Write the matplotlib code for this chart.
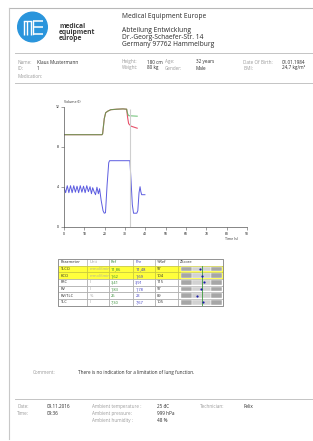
import matplotlib
matplotlib.use("Agg")
import numpy as np
from matplotlib import pyplot as plt
from matplotlib.patches import Circle, Rectangle

plt.rcParams['font.family'] = ['Open Sans', 'DejaVu Sans']

# volume trace (l) over time (s)
blue_t = [0, 0.8, 1.6, 2.4, 3.2, 4.0, 4.8, 5.6, 6.4, 7.2, 8.0, 8.8, 9.6, 10.4, 11.2,
          12.0, 12.8, 13.5, 14.1, 14.8, 15.5, 16.2, 16.9, 17.5, 18.3, 19.2, 19.8, 20.4,
          21.2, 22.0, 22.4, 32.4, 33.0, 33.6, 34.2, 35.8, 36.3, 36.9, 37.4, 37.8, 38.2, 39.8]
blue_v = [3.9, 3.4, 4.1, 3.4, 4.1, 3.4, 4.1, 3.45, 4.05, 3.4, 4.1, 3.45, 4.05, 3.4, 4.1,
          3.5, 4.0, 3.3, 3.9, 3.5, 3.2, 3.95, 3.3, 3.8, 2.6, 1.6, 1.35, 1.4,
          4.2, 6.4, 6.6, 6.6, 4.5, 2.2, 1.35, 1.35, 1.6, 3.4, 4.0, 3.5, 3.2, 3.2]
green_t = [0, 18.7, 19.0, 19.8, 20.5, 21.5, 23, 26, 29, 30.8, 31.3, 31.8, 36]
green_v = [9.2, 9.2, 9.3, 10.8, 11.4, 11.55, 11.7, 11.75, 11.78, 11.75, 11.3, 11.1, 11.05]
red_t = [0, 18.7, 19.0, 19.8, 20.5, 21.5, 23, 26, 29, 30.8, 31.3, 31.8, 33, 34.5, 36]
red_v = [9.2, 9.2, 9.3, 10.8, 11.4, 11.55, 11.7, 11.75, 11.78, 11.75, 10.9, 10.3, 10.05, 9.95, 9.85]
event_t = 32.7
event_top = 11.8

# results table
params = ["TLCO", "KCO", "FRC", "RV", "RV/TLC", "TLC"]
units = ["mmol/(min", "mmol/(min", "l", "l", "%", "l"]
ref = ["11,86", "1,62", "3,41", "1,83", "26", "7,30"]
pre = ["11,48", "1,69", "3,91", "1,78", "23", "7,67"]
pct_ref = ["97", "104", "115", "97", "89", "105"]
zscore = [-0.3, 0.1, 0.45, -0.2, -0.8, 0.3]
highlight = [True, True, False, False, False, False]

W, H = 313, 441
fig = plt.figure(figsize=(W / 100, H / 100), dpi=100)
page = fig.add_axes([0, 0, 1, 1])
page.set_xlim(0, W)
page.set_ylim(H, 0)
page.axis('off')

grey_lbl = '#9a9a9a'
dark = '#2a2a2a'

# frame and separators
page.plot([9, W], [8, 8], color='#b8b8b8', lw=0.8)
page.plot([9, 9], [8, 439], color='#c8c8c8', lw=0.8)
for y in [53, 83, 399]:
    page.plot([15, W], [y, y], color='#c4c4c4', lw=0.7)

# logo
page.add_patch(Circle((32.5, 27), 14.8, color='#2a95dc'))
for x in [23.5, 27, 30.5]:
    page.plot([x, x], [21, 35], color='white', lw=1.0, solid_capstyle='butt')
page.plot([23.5, 30.5], [20.5, 20.5], color='white', lw=1.0)
for y in [20.5, 27, 33.5]:
    page.plot([33, 43], [y, y], color='white', lw=1.1, solid_capstyle='butt')
page.plot([33, 33], [20.5, 33.5], color='white', lw=1.0)
for y, s in zip([26, 32.5, 39], ["medical", "equipment", "europe"]):
    page.text(59, y, s, fontsize=4.9, fontweight='bold', color='#3a3a3a', va='center')

for y, s in zip([17, 30, 37.5, 45], ["Medical Equipment Europe", "Abteilung Entwicklung",
                                     "Dr.-Georg-Schaefer-Str. 14", "Germany 97762 Hammelburg"]):
    page.text(122, y, s, fontsize=4.8, color=dark, va='center')

# patient info
info = [(17, 62, "Name:", grey_lbl), (37, 62, "Klaus Mustermann", dark),
        (17, 68, "ID:", grey_lbl), (37, 68, "1", dark),
        (17, 76, "Medication:", grey_lbl),
        (122, 62, "Height:", grey_lbl), (147, 62, "180 cm", dark),
        (122, 68, "Weight:", grey_lbl), (147, 68, "80 kg", dark),
        (165, 62, "Age:", grey_lbl), (196, 62, "32 years", dark),
        (165, 68, "Gender:", grey_lbl), (196, 68, "Male", dark),
        (243, 62, "Date Of Birth:", grey_lbl), (282, 62, "01.01.1984", dark),
        (243, 68, "BMI:", grey_lbl), (282, 68, "24,7 kg/m\u00b2", dark)]
for x, y, s, c in info:
    page.text(x, y, s, fontsize=3.3, color=c, va='center')

# volume chart
ax = fig.add_axes([64 / W, 1 - 226.7 / H, 183 / W, 120 / H])
ax.plot(red_t, red_v, color='#e8506a', lw=0.8)
ax.plot(green_t, green_v, color='#3fae4a', lw=0.8, alpha=0.7)
ax.plot(blue_t, blue_v, color='#5c5ce0', lw=0.7)
ax.vlines(event_t, 0, event_top, color='#cfcfcf', lw=0.8)
ax.set_xlim(0, 90)
ax.set_ylim(0, 12)
ax.set_xticks(np.arange(0, 91, 10))
ax.set_yticks([0, 4, 8, 12])
ax.tick_params(labelsize=2.4, length=2, width=0.4, color='#555555', pad=1.5)
for side in ['top', 'right']:
    ax.spines[side].set_visible(False)
for side in ['left', 'bottom']:
    ax.spines[side].set_linewidth(0.5)
    ax.spines[side].set_color('#555555')
page.text(64, 102, "Volume (l)", fontsize=2.6, color='#333333', va='center')
page.text(225, 238.5, "Time (s)", fontsize=2.6, color='#333333', va='center')

# table
cols = [58.3, 87.3, 109, 133.3, 155, 177.7, 223.3]
top, rh = 259, 6.67
header = ["Parameter", "Unit", "Ref", "Pre", "%Ref", "ZScore"]
head_col = [dark, grey_lbl, '#2f8a2f', '#3434c0', dark, dark]
for j, s in enumerate(header):
    page.add_patch(Rectangle((cols[j], top), cols[j + 1] - cols[j], rh,
                             fc='white', ec='#a8a8a8', lw=0.4))
    page.text(cols[j] + 2, top + rh / 2, s, fontsize=2.9, color=head_col[j], va='center')
for i in range(len(params)):
    y0 = top + rh * (i + 1)
    fc = '#ffff3c' if highlight[i] else 'white'
    ec = '#c8c83a' if highlight[i] else '#a8a8a8'
    vals = [params[i], units[i], ref[i], pre[i], pct_ref[i]]
    colr = [dark, '#b0b0a0' if highlight[i] else grey_lbl, '#2f8a2f', '#3434c0', dark]
    for j in range(6):
        page.add_patch(Rectangle((cols[j], y0), cols[j + 1] - cols[j], rh,
                                 fc=fc, ec=ec, lw=0.5))
        if j < 5:
            page.text(cols[j] + 2, y0 + rh / 2, vals[j], fontsize=2.9, color=colr[j], va='center')
page.add_patch(Rectangle((cols[0], top), cols[-1] - cols[0], rh * 7,
                         fc='none', ec='#8a8a8a', lw=0.6))

# z-score bars
zx = fig.add_axes([cols[5] / W, 1 - (top + rh * 7) / H, (cols[6] - cols[5]) / W, rh * 6 / H])
zx.patch.set_alpha(0)
n = len(params)
rows = np.arange(n)
zx.barh(rows, 3.6 - 1.645, left=-3.6, height=0.68, color='#a6a6a6', ec='white', lw=0.3)
zx.barh(rows, 2 * 1.645, left=-1.645, height=0.68, color='#d2d2d2', ec='white', lw=0.3)
zx.barh(rows, 3.6 - 1.645, left=1.645, height=0.68, color='#a6a6a6', ec='white', lw=0.3)
zx.axvline(0, color='#3a9a3a', lw=0.6)
zx.scatter(zscore, rows, s=2.5, color='#1c1ca8', zorder=3, linewidths=0)
zx.set_xlim(-4.2, 3.8)
zx.set_ylim(n - 0.5, -0.5)
zx.axis('off')

# comment and footer
page.text(33, 372.5, "Comment:", fontsize=3.3, color=grey_lbl, va='center')
page.text(78, 372.5, "There is no indication for a limitation of lung function.",
          fontsize=3.3, color=dark, va='center')
footer = [(17, 406.5, "Date:", grey_lbl), (47, 406.5, "09.11.2016", dark),
          (17, 413.5, "Time:", grey_lbl), (47, 413.5, "09:36", dark),
          (92, 406.5, "Ambient temperature :", grey_lbl), (157, 406.5, "25 \u0111C", dark),
          (92, 413.5, "Ambient pressure:", grey_lbl), (157, 413.5, "999 hPa", dark),
          (92, 420.5, "Ambient humidity :", grey_lbl), (157, 420.5, "48 %", dark),
          (200, 406.5, "Technician:", grey_lbl), (243, 406.5, "Felix", dark)]
for x, y, s, c in footer:
    page.text(x, y, s, fontsize=3.3, color=c, va='center')

fig.savefig("out.png", dpi=100, facecolor='white')
